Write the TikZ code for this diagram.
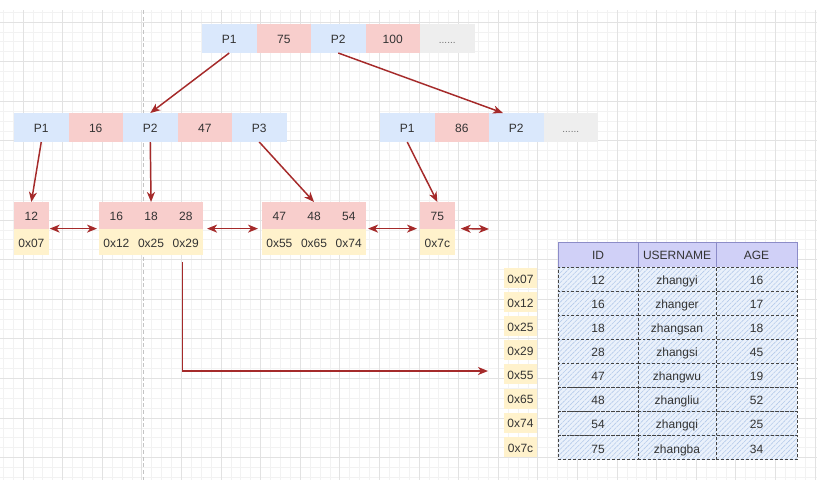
\documentclass[tikz,border=0pt]{standalone}
\usepackage{fontspec}
\setmainfont{Liberation Sans}
\usetikzlibrary{arrows.meta,patterns.meta,calc}

\definecolor{keyblue}{HTML}{DAE8FC}
\definecolor{keyred}{HTML}{F8CECC}
\definecolor{keygray}{HTML}{EEEEEE}
\definecolor{addryel}{HTML}{FFF2CC}
\definecolor{linkred}{HTML}{A52A2A}
\definecolor{ink}{HTML}{333333}
\definecolor{gridminor}{HTML}{F2F2F2}
\definecolor{gridmajor}{HTML}{E2E2E2}
\definecolor{pageline}{HTML}{C4C4C4}
\definecolor{headfill}{HTML}{D0D0F7}
\definecolor{headline}{HTML}{8C8CC8}
\definecolor{rowfill}{HTML}{EAF1FB}
\definecolor{rowhatch}{HTML}{B4CAEA}
\definecolor{rowline}{HTML}{444444}

\begin{document}
\begin{tikzpicture}[x=0.75pt,y=-0.75pt,
  cell/.style={inner sep=0pt, outer sep=0pt, anchor=north west, text=ink,
    font=\fontsize{9}{10}\selectfont, text height=8pt, text depth=0pt},
  keycell/.style={cell, minimum width=54.5*0.75pt, minimum height=29*0.75pt},
  leafcell/.style={cell, minimum width=34.7*0.75pt, minimum height=26.6*0.75pt},
  dots/.style={text=ink!70, font=\fontsize{7.5}{8}\selectfont},
  headcell/.style={cell, fill=headfill, draw=headline, line width=0.6pt,
    minimum height=25*0.75pt},
  rowcell/.style={cell, minimum height=24.1*0.75pt, draw=rowline, line width=0.6pt,
    dash pattern=on 2.2pt off 1.5pt, preaction={fill=rowfill},
    pattern={Lines[angle=45,distance=2.6pt,line width=0.45pt]}, pattern color=rowhatch},
  addr/.style={inner sep=0pt, fill=addryel, text=ink, minimum width=33*0.75pt,
    minimum height=20*0.75pt, font=\fontsize{9}{10}\selectfont,
    text height=8pt, text depth=0pt},
  link/.style={draw=linkred, line width=1.1pt, -{Stealth[length=7.5pt,width=6pt,inset=2.2pt]}},
  dlink/.style={draw=linkred, line width=1.1pt,
    {Stealth[length=7.5pt,width=6pt,inset=2.2pt]}-{Stealth[length=7.5pt,width=6pt,inset=2.2pt]}}
]
\useasboundingbox (0,0) rectangle (817,480);
\fill[white] (0,0) rectangle (817,480);

% background grid
\foreach \k in {0,...,82} {
  \pgfmathsetmacro\gx{3.2+9.9*\k}
  \draw[gridminor, line width=0.5pt] (\gx,10) -- (\gx,480);
}
\foreach \k in {0,...,47} {
  \pgfmathsetmacro\gy{12.1+9.9*\k}
  \draw[gridminor, line width=0.5pt] (0,\gy) -- (817,\gy);
}
\foreach \k in {0,...,20} {
  \pgfmathsetmacro\gx{23+39.6*\k}
  \draw[gridmajor, line width=0.6pt] (\gx,10) -- (\gx,480);
}
\foreach \k in {0,...,11} {
  \pgfmathsetmacro\gy{22+39.6*\k}
  \draw[gridmajor, line width=0.6pt] (0,\gy) -- (817,\gy);
}
\draw[pageline, line width=0.6pt, dash pattern=on 3pt off 2pt] (143,10) -- (143,480);

% root page
\node[keycell, fill=keyblue] (t1) at (202,24) {P1};
\node[keycell, fill=keyred]  (t2) at (t1.north east) {75};
\node[keycell, fill=keyblue] (t3) at (t2.north east) {P2};
\node[keycell, fill=keyred]  (t4) at (t3.north east) {100};
\node[keycell, fill=keygray, dots] (t5) at (t4.north east) {......};

% second level, left page
\node[keycell, fill=keyblue] (a1) at (14,113) {P1};
\node[keycell, fill=keyred]  (a2) at (a1.north east) {16};
\node[keycell, fill=keyblue] (a3) at (a2.north east) {P2};
\node[keycell, fill=keyred]  (a4) at (a3.north east) {47};
\node[keycell, fill=keyblue] (a5) at (a4.north east) {P3};

% second level, right page
\node[keycell, fill=keyblue] (b1) at (380,113) {P1};
\node[keycell, fill=keyred]  (b2) at (b1.north east) {86};
\node[keycell, fill=keyblue] (b3) at (b2.north east) {P2};
\node[keycell, fill=keygray, dots] (b4) at (b3.north east) {......};

% leaf pages: keys on top, row addresses below
\node[leafcell, fill=keyred] (r1) at (14,202) {12};
\node[leafcell, fill=addryel] (y1) at (r1.south west) {0x07};

\node[leafcell, fill=keyred] (r2a) at (99,202) {16};
\node[leafcell, fill=keyred] (r2b) at (r2a.north east) {18};
\node[leafcell, fill=keyred] (r2c) at (r2b.north east) {28};
\node[leafcell, fill=addryel] (y2a) at (r2a.south west) {0x12};
\node[leafcell, fill=addryel] (y2b) at (r2b.south west) {0x25};
\node[leafcell, fill=addryel] (y2c) at (r2c.south west) {0x29};

\node[leafcell, fill=keyred] (r3a) at (262,202) {47};
\node[leafcell, fill=keyred] (r3b) at (r3a.north east) {48};
\node[leafcell, fill=keyred] (r3c) at (r3b.north east) {54};
\node[leafcell, fill=addryel] (y3a) at (r3a.south west) {0x55};
\node[leafcell, fill=addryel] (y3b) at (r3b.south west) {0x65};
\node[leafcell, fill=addryel] (y3c) at (r3c.south west) {0x74};

\node[leafcell, fill=keyred] (r4) at (420,202) {75};
\node[leafcell, fill=addryel] (y4) at (r4.south west) {0x7c};

% child pointers
\draw[link] (t1.south) -- (a3.north);
\draw[link] (t3.south) -- ($(b3.north west)+(14,0)$);
\draw[link] (a1.south) -- (r1.north);
\draw[link] (a3.south) -- (r2b.north);
\draw[link] (a5.south) -- (r3b.north);
\draw[link] (b1.south) -- (r4.north);

% sibling links between leaves
\draw[dlink] ($(r1.south east)+(1,0)$) -- ($(r2a.south west)+(-2,0)$);
\draw[dlink] ($(r2c.south east)+(4,0)$) -- ($(r3a.south west)+(-4,0)$);
\draw[dlink] ($(r3c.south east)+(2,0)$) -- ($(r4.south west)+(-3,0)$);
\coordinate (nxt) at (489,229);
\draw[dlink] ($(r4.south east)+(6,0)$) -- (nxt);

% table of rows
\node[headcell, minimum width=80*0.75pt] (h1) at (558,242) {ID};
\node[headcell, minimum width=78*0.75pt] (h2) at (h1.north east) {USERNAME};
\node[headcell, minimum width=81*0.75pt] (h3) at (h2.north east) {AGE};

\foreach \id/\nm/\age/\ad [count=\r] in {
  12/zhangyi/16/0x07, 16/zhanger/17/0x12, 18/zhangsan/18/0x25,
  28/zhangsi/45/0x29, 47/zhangwu/19/0x55, 48/zhangliu/52/0x65,
  54/zhangqi/25/0x74, 75/zhangba/34/0x7c} {
  \pgfmathsetmacro\ry{267+24.1*(\r-1)}
  \node[rowcell, minimum width=80*0.75pt] (id\r) at (558,\ry) {\id};
  \node[rowcell, minimum width=78*0.75pt] (nm\r) at (id\r.north east) {\nm};
  \node[rowcell, minimum width=81*0.75pt] (ag\r) at (nm\r.north east) {\age};
  \node[addr] (ad\r) at ($(id\r.west)+(-37.5,-1)$) {\ad};
}

% pointer from a leaf address into the table
\coordinate (ptr) at (488,371);
\draw[link] ($(y2c.south)+(-3.5,7)$) |- (ptr);
\end{tikzpicture}
\end{document}
